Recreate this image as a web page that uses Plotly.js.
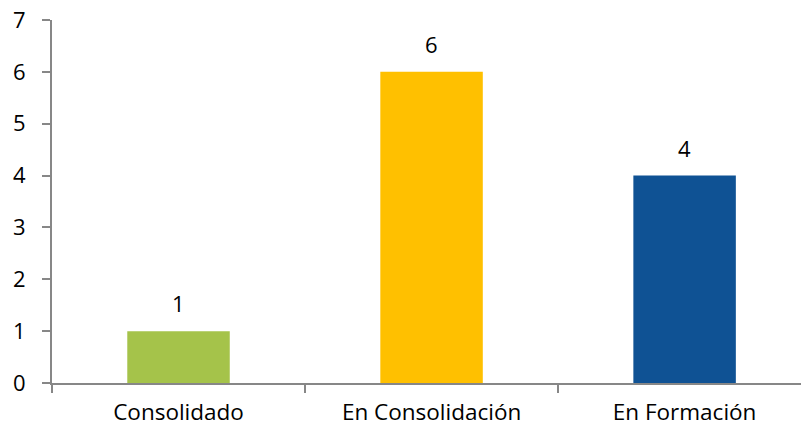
<!DOCTYPE html>
<html><head><meta charset="utf-8">
<script src="https://cdn.plot.ly/plotly-3.0.1.min.js"></script>
<style>body{margin:0;padding:0;}#chart{width:801px;height:427px;}</style>
</head><body><div id="chart"></div>
<script>
const categories = ["Consolidado", "En Consolidación", "En Formación"];
const values = [1, 6, 4];
const colors = ["#A5C34A", "#FFC000", "#0F5294"];
const yTicks = [0, 1, 2, 3, 4, 5, 6, 7];

const trace = {
  type: "bar",
  x: categories,
  y: values,
  width: 0.405,
  marker: {color: colors},
  hoverinfo: "none"
};

const annotations = categories.map((c, i) => ({
  x: c, y: values[i], xref: "x", yref: "y",
  text: String(values[i]), showarrow: false,
  yanchor: "bottom", yshift: 11,
  font: {family: "Open Sans, sans-serif", size: 22, color: "#000"}
}));

const layout = {
  width: 801, height: 427,
  margin: {l: 52, r: 0, t: 20, b: 44},
  paper_bgcolor: "#fff", plot_bgcolor: "#fff",
  showlegend: false,
  font: {family: "Open Sans, sans-serif", size: 22, color: "#000"},
  annotations: annotations,
  xaxis: {
    type: "category",
    range: [-0.5, 2.46],
    showline: true, linecolor: "#878787", linewidth: 2,
    ticks: "outside", tickson: "boundaries", ticklen: 8, tickcolor: "#878787", tickwidth: 2,
    showgrid: false, zeroline: false,
    tickfont: {size: 22.5},
    ticklabelstandoff: 8
  },
  yaxis: {
    range: [0, 7],
    tickvals: yTicks,
    showline: true, linecolor: "#878787", linewidth: 2,
    ticks: "outside", ticklen: 8, tickcolor: "#878787", tickwidth: 2,
    showgrid: false, zeroline: false,
    tickfont: {size: 22},
    ticklabelstandoff: 12
  }
};

Plotly.newPlot("chart", [trace], layout, {displayModeBar: false, staticPlot: true});
</script></body></html>
